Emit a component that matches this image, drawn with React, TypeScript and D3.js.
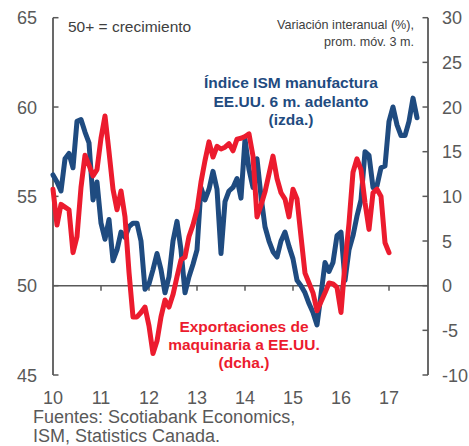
import React from "react";
import * as d3 from "d3";

// Monthly values starting Jan 2010 (index 0)
const ismValues: number[] = [
  56.2, 55.8, 55.3, 57.1, 57.4, 56.6, 59.2, 59.3, 58.6, 58.0,
  54.8, 55.8, 53.5, 52.6, 53.7, 51.4, 52.0, 53.0, 52.7, 53.3,
  53.5, 53.5, 52.5, 49.8, 50.1, 50.9, 51.8, 50.9, 49.6, 50.5,
  52.5, 53.6, 52.0, 49.6, 50.5, 51.2, 52.0, 55.5, 54.8, 55.4,
  56.4, 55.4, 51.8, 54.7, 55.3, 55.5, 56.0, 54.9, 58.2, 56.5,
  55.5, 57.1, 55.0, 53.3, 52.5, 51.9, 51.6, 52.5, 53.0, 52.2,
  51.5, 50.3, 50.0, 49.6, 49.0, 48.5, 47.8, 49.5, 51.3, 50.8,
  51.3, 52.8, 53.0, 50.3, 52.0, 52.8, 53.9, 54.8, 57.5, 57.3,
  55.5, 55.6, 56.6, 56.7, 59.2, 60.0, 59.0, 58.4, 58.4, 59.2,
  60.5, 59.4,
];

const exportValues: number[] = [
  10.8, 6.8, 9.1, 8.8, 8.5, 3.7, 5.5, 11.0, 14.6, 13.5,
  12.3, 13.0, 16.5, 19.0, 15.0, 10.8, 8.5, 10.6, 7.7, 1.5,
  -3.5, -3.5, -3.0, -2.4, -4.5, -7.6, -6.2, -3.5, -1.6, -2.4,
  -1.0, 1.0, 2.9, 3.2, 5.5, 6.8, 8.5, 11.6, 14.0, 16.1,
  14.4, 15.6, 15.3, 15.5, 15.9, 15.1, 16.4, 16.5, 16.7, 17.0,
  14.5, 7.7, 9.0, 10.5, 12.5, 14.5, 12.0, 10.4, 9.7, 7.7,
  10.8, 9.7, 5.5, 1.4, 0.3, -0.8, -2.8, -1.8, -0.8, 0.3,
  0.2, -0.2, -3.0, 2.5, 7.0, 12.7, 14.2, 13.0, 9.3, 6.3,
  10.4, 10.8, 10.0, 4.8, 3.7,
];

const yearLabels: string[] = ["10", "11", "12", "13", "14", "15", "16", "17"];
const leftTicks: number[] = [45, 50, 55, 60, 65];
const rightTicks: number[] = [-10, -5, 0, 5, 10, 15, 20, 25, 30];

const blueLabel: string[] = ["Índice ISM manufactura", "EE.UU. 6 m. adelanto", "(izda.)"];
const redLabel: string[] = ["Exportaciones de", "maquinaria a EE.UU.", "(dcha.)"];
const noteLeft = "50+ = crecimiento";
const noteRight: string[] = ["Variación interanual (%),", "prom. móv. 3 m."];
const sources: string[] = ["Fuentes: Scotiabank Economics,", "ISM, Statistics Canada."];

const BLUE = "#1f4b80";
const RED = "#ec1b2e";
const GRAY = "#595959";
const FONT = "'Liberation Sans', Arial, sans-serif";

export default function App() {
  const W = 469, H = 446;
  const x0 = 53, x1 = 428;
  const yTop = 17.7, yBot = 375;
  const x = d3.scaleLinear().domain([0, 93.75]).range([x0, x1]);
  const yL = d3.scaleLinear().domain([45, 65]).range([yBot, yTop]);
  const yR = d3.scaleLinear().domain([-10, 30]).range([yBot, yTop]);

  const blueLine = d3.line<number>().x((_, i) => x(i)).y((d) => yL(d));
  const redLine = d3.line<number>().x((_, i) => x(i)).y((d) => yR(d));
  const yZero = yL(50);

  return (
    <svg width={W} height={H} style={{ position: "absolute", left: 0, top: 0, background: "#fff" }} fontFamily={FONT}>
      {/* left axis */}
      <line x1={x0} x2={x0} y1={yTop} y2={yBot} stroke={GRAY} strokeWidth={1.8} />
      {leftTicks.map((t) => (
        <g key={"l" + t}>
          <line x1={x0} x2={x0 + 5.5} y1={yL(t)} y2={yL(t)} stroke={GRAY} strokeWidth={1.5} />
          <text x={37} y={yL(t) + 6.5} textAnchor="end" fontSize={18} fill={GRAY}>{t}</text>
        </g>
      ))}
      {/* right axis */}
      <line x1={x1} x2={x1} y1={yTop} y2={yBot} stroke={GRAY} strokeWidth={1.8} />
      {rightTicks.map((t) => (
        <g key={"r" + t}>
          <line x1={x1 - 5.5} x2={x1} y1={yR(t)} y2={yR(t)} stroke={GRAY} strokeWidth={1.5} />
          <text x={442} y={yR(t) + 6.5} textAnchor="start" fontSize={18} fill={GRAY}>{t}</text>
        </g>
      ))}
      {/* x axis at 50 / 0 */}
      <line x1={x0} x2={x1} y1={yZero} y2={yZero} stroke={GRAY} strokeWidth={1.5} />
      {yearLabels.map((lab, k) => (
        <g key={"x" + lab}>
          {k > 0 && <line x1={x(k * 12)} x2={x(k * 12)} y1={yZero} y2={yZero + 5} stroke={GRAY} strokeWidth={1.5} />}
          <text x={x(k * 12)} y={404} textAnchor="middle" fontSize={18} fill={GRAY}>{lab}</text>
        </g>
      ))}
      {/* series */}
      <path d={blueLine(ismValues) || ""} fill="none" stroke={BLUE} strokeWidth={5} strokeLinejoin="round" strokeLinecap="round" />
      <path d={redLine(exportValues) || ""} fill="none" stroke={RED} strokeWidth={5} strokeLinejoin="round" strokeLinecap="round" />
      {/* notes */}
      <text x={68} y={32} fontSize={15.5} fill="#404040">{noteLeft}</text>
      {noteRight.map((s, i) => (
        <text key={s} x={414} y={29 + i * 17} textAnchor="end" fontSize={12.6} fill="#404040">{s}</text>
      ))}
      {blueLabel.map((s, i) => (
        <text key={s} x={291} y={88 + i * 18.5} textAnchor="middle" fontSize={15.5} fontWeight="bold" fill={BLUE}>{s}</text>
      ))}
      {redLabel.map((s, i) => (
        <text key={s} x={244} y={332 + i * 18.2} textAnchor="middle" fontSize={15.5} fontWeight="bold" fill={RED}>{s}</text>
      ))}
      {sources.map((s, i) => (
        <text key={s} x={33} y={423 + i * 19} fontSize={18} fill={GRAY}>{s}</text>
      ))}
    </svg>
  );
}
